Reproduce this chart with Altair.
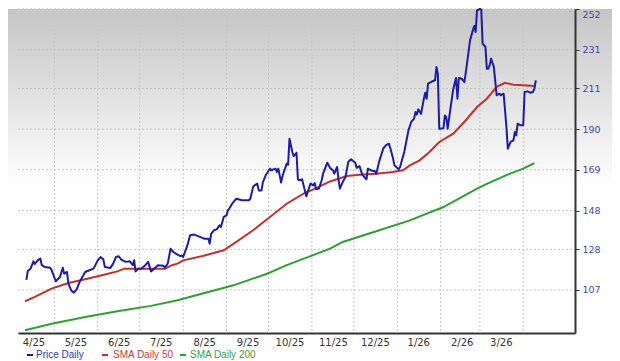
import altair as alt
import pandas as pd

# ---------------- data ----------------
price_dates = [
    "2025-04-11", "2025-04-12", "2025-04-14", "2025-04-16", "2025-04-17", "2025-04-19", "2025-04-21", "2025-04-22", "2025-04-24", "2025-04-28", "2025-04-29",
    "2025-05-02", "2025-05-05", "2025-05-07", "2025-05-08", "2025-05-10", "2025-05-11", "2025-05-13", "2025-05-15", "2025-05-17", "2025-05-19", "2025-05-23", "2025-05-26", "2025-05-29",
    "2025-06-01", "2025-06-03", "2025-06-05", "2025-06-06", "2025-06-10", "2025-06-12", "2025-06-14", "2025-06-16", "2025-06-18", "2025-06-21", "2025-06-24", "2025-06-26", "2025-06-27", "2025-06-28", "2025-06-30",
    "2025-07-02", "2025-07-05", "2025-07-07", "2025-07-09", "2025-07-12", "2025-07-14", "2025-07-18", "2025-07-19", "2025-07-21", "2025-07-23", "2025-07-25", "2025-07-28", "2025-07-30", "2025-07-31",
    "2025-08-01", "2025-08-04", "2025-08-06", "2025-08-09", "2025-08-13", "2025-08-16", "2025-08-19", "2025-08-20", "2025-08-21", "2025-08-23", "2025-08-25", "2025-08-27", "2025-08-28", "2025-08-30",
    "2025-09-01", "2025-09-02", "2025-09-03", "2025-09-05", "2025-09-07", "2025-09-08", "2025-09-12", "2025-09-17", "2025-09-18", "2025-09-20", "2025-09-21", "2025-09-23", "2025-09-24", "2025-09-26", "2025-09-27", "2025-09-29",
    "2025-10-02", "2025-10-03", "2025-10-06", "2025-10-07", "2025-10-08", "2025-10-10", "2025-10-11", "2025-10-14", "2025-10-15", "2025-10-16", "2025-10-18", "2025-10-19", "2025-10-21", "2025-10-22", "2025-10-23", "2025-10-25", "2025-10-28", "2025-10-29", "2025-10-31",
    "2025-11-02", "2025-11-03", "2025-11-04", "2025-11-06", "2025-11-08", "2025-11-09", "2025-11-12", "2025-11-14", "2025-11-16", "2025-11-17", "2025-11-19", "2025-11-20", "2025-11-21", "2025-11-23", "2025-11-25", "2025-11-27", "2025-11-29",
    "2025-12-02", "2025-12-03", "2025-12-05", "2025-12-07", "2025-12-09", "2025-12-10", "2025-12-11", "2025-12-13", "2025-12-16", "2025-12-17", "2025-12-19", "2025-12-22", "2025-12-24", "2025-12-26", "2025-12-27", "2025-12-29", "2025-12-30",
    "2026-01-02", "2026-01-03", "2026-01-06", "2026-01-09", "2026-01-11", "2026-01-13", "2026-01-14", "2026-01-15", "2026-01-16", "2026-01-18", "2026-01-20", "2026-01-21", "2026-01-22", "2026-01-23", "2026-01-26", "2026-01-28", "2026-01-29", "2026-01-30", "2026-01-31",
    "2026-02-03", "2026-02-04", "2026-02-05", "2026-02-06", "2026-02-08", "2026-02-10", "2026-02-11", "2026-02-12", "2026-02-13", "2026-02-14", "2026-02-16", "2026-02-18", "2026-02-20", "2026-02-22", "2026-02-24", "2026-02-25", "2026-02-26", "2026-02-27",
    "2026-03-01", "2026-03-02", "2026-03-03", "2026-03-05", "2026-03-06", "2026-03-07", "2026-03-08", "2026-03-09", "2026-03-11", "2026-03-13", "2026-03-15", "2026-03-16", "2026-03-18", "2026-03-20", "2026-03-21", "2026-03-23", "2026-03-25", "2026-03-26", "2026-03-27", "2026-03-28", "2026-03-30",
    "2026-04-01", "2026-04-02", "2026-04-04", "2026-04-06", "2026-04-08", "2026-04-09", "2026-04-10",
]
price_values = [
    112.2, 116.8, 118.0, 121.8, 120.4, 122.3, 123.2, 119.8, 118.9, 118.5, 117.2,
    111.5, 113.7, 118.5, 115.4, 116.3, 110.3, 106.8, 105.6, 107.4, 111.1, 116.3, 117.2, 118.0,
    122.3, 124.0, 122.8, 118.9, 118.4, 120.6, 124.0, 124.4, 122.6, 121.5, 121.8, 119.8, 122.3, 116.6, 118.0,
    118.0, 119.8, 121.5, 116.6, 118.4, 119.8, 119.5, 118.6, 120.6, 128.3, 126.6, 125.2, 124.5, 124.8,
    124.0, 130.0, 135.2, 135.6, 134.4, 133.5, 133.5, 130.9, 136.0, 137.8, 138.3, 140.4, 139.5, 144.7,
    145.5, 148.1, 149.0, 151.5, 153.3, 154.1, 153.3, 153.3, 154.1, 160.2, 161.0, 161.9, 158.4, 158.4, 162.7, 166.2,
    169.6, 168.8, 169.6, 167.9, 169.6, 162.4, 165.8, 172.2, 171.7, 185.1, 178.2, 176.1, 177.8, 164.1, 163.6, 164.1, 155.3, 157.6, 161.9,
    161.0, 162.2, 159.0, 159.3, 163.6, 167.0, 172.7, 170.0, 168.8, 167.0, 170.5, 164.1, 159.3, 162.7, 165.3, 173.1, 174.5,
    172.7, 170.0, 171.0, 166.5, 164.8, 164.1, 169.6, 168.8, 168.3, 167.0, 173.1, 180.0, 181.7, 182.5, 180.3, 174.8, 171.3,
    169.3, 170.5, 178.2, 189.4, 193.7, 195.4, 198.9, 197.5, 200.2, 197.9, 205.7, 208.8, 205.7, 213.5, 214.7, 215.2, 222.1, 218.6, 190.2,
    190.4, 197.1, 196.3, 190.2, 200.6, 210.6, 213.5, 216.4, 205.7, 216.4, 216.0, 214.3, 224.7, 235.8, 241.0, 243.2, 240.1, 251.3,
    252.0, 251.8, 234.1, 232.4, 221.2, 221.2, 222.9, 226.4, 222.1, 207.5, 208.3, 207.5, 208.3, 191.1, 179.9, 183.4, 184.2, 188.5, 186.8, 192.8, 192.0,
    192.0, 209.2, 209.5, 208.8, 209.2, 210.9, 215.2,
]

sma50_dates = [
    "2025-04-10", "2025-04-17", "2025-04-29", "2025-05-11", "2025-05-23", "2025-06-04", "2025-06-15", "2025-06-20", "2025-06-30",
    "2025-07-19", "2025-07-24", "2025-07-28", "2025-08-01", "2025-08-15", "2025-08-30", "2025-09-08", "2025-09-20", "2025-10-02",
    "2025-10-14", "2025-10-26", "2025-11-04", "2025-11-14", "2025-11-26", "2025-12-05", "2025-12-17", "2025-12-29", "2026-01-05",
    "2026-01-10", "2026-01-17", "2026-01-24", "2026-01-31", "2026-02-10", "2026-02-19", "2026-02-27", "2026-03-06", "2026-03-13",
    "2026-03-19", "2026-03-25", "2026-04-01", "2026-04-09",
]
sma50_values = [
    101.2, 103.4, 107.7, 110.6, 112.5, 114.6, 116.6, 118.0, 118.0,
    118.0, 119.8, 120.6, 122.3, 124.5, 127.5, 131.8, 137.8, 144.7,
    151.5, 156.7, 159.6, 163.0, 165.8, 166.5, 167.0, 167.9, 168.8,
    171.3, 173.9, 178.2, 183.4, 187.7, 194.6, 201.4, 205.7, 211.8,
    213.9, 212.9, 212.6, 212.3,
]

sma200_dates = [
    "2025-04-10", "2025-04-29", "2025-05-23", "2025-06-15", "2025-07-09", "2025-07-28", "2025-09-06", "2025-09-30", "2025-10-14",
    "2025-10-31", "2025-11-14", "2025-11-23", "2025-12-17", "2026-01-10", "2026-02-03", "2026-02-27", "2026-03-06", "2026-03-20",
    "2026-04-01", "2026-04-09",
]
sma200_values = [
    86.2, 89.6, 93.1, 96.0, 98.8, 101.7, 109.4, 115.4, 119.8,
    124.5, 128.3, 131.8, 137.3, 142.9, 149.8, 159.3, 161.8, 166.3,
    169.6, 172.5,
]

y_ticks = [107, 128, 148, 169, 190, 211, 231, 252]
month_starts = [
    "2025-05-01", "2025-06-01", "2025-07-01", "2025-08-01", "2025-09-01", "2025-10-01",
    "2025-11-01", "2025-12-01", "2026-01-01", "2026-02-01", "2026-03-01", "2026-04-01",
]
label_months = [(2025, m) for m in range(4, 13)] + [(2026, m) for m in range(1, 4)]

series_names = ["Price Daily", "SMA Daily 50", "SMA Daily 200"]
series_colors = ["#1c1ca6", "#c3302c", "#2f9e33"]
legend_text_colors = ["#3636b8", "#d23a3a", "#3c9c3c"]

# ---------------- build chart ----------------
W, H = 557, 324

price_df = pd.DataFrame({"date": price_dates, "value": price_values})
sma50_df = pd.DataFrame({"date": sma50_dates, "value": sma50_values})
sma200_df = pd.DataFrame({"date": sma200_dates, "value": sma200_values})
grid_x_df = pd.DataFrame({"gdate": month_starts})
grid_y_df = pd.DataFrame({"gval": y_ticks})
dummy = pd.DataFrame({"a": [0]})

x_scale = alt.Scale(
    type="utc",
    domain=[alt.DateTime(year=2025, month=4, date=5, utc=True),
            alt.DateTime(year=2026, month=5, date=8, utc=True)],
)
x_axis = alt.Axis(
    values=[alt.DateTime(year=y, month=m, date=16, utc=True) for y, m in label_months],
    labelExpr="utcFormat(datum.value, '%-m/%y')",
    ticks=False, grid=False, title=None,
    domainColor="#333333", domainWidth=2,
    labelFont="DejaVu Sans", labelFontSize=10, labelColor="#333333",
    labelPadding=4, labelOverlap=False, labelFlush=False, zindex=1,
)
y_scale = alt.Scale(domain=[84.8, 252], nice=False, zero=False)
y_axis = alt.Axis(
    orient="right", values=y_ticks, grid=False, title=None,
    domainColor="#333333", domainWidth=2,
    tickColor="#333333", tickSize=4, tickWidth=1,
    labelFont="DejaVu Sans", labelFontSize=9.5, labelColor="#4646b4",
    labelPadding=3, labelFlush=True, labelOverlap=False, zindex=1,
)

x_enc = alt.X("date:T", scale=x_scale, axis=x_axis, title=None)
y_enc = alt.Y("value:Q", scale=y_scale, axis=y_axis, title=None)

background = alt.Chart(dummy).mark_rect(
    fill={
        "gradient": "linear", "x1": 0, "y1": 0, "x2": 0, "y2": 1,
        "stops": [
            {"offset": 0, "color": "#c5c5c5"},
            {"offset": 0.55, "color": "#ffffff"},
            {"offset": 1, "color": "#ffffff"},
        ],
    }
).encode(x=alt.value(-10), x2=alt.value(W + 37), y=alt.value(0), y2=alt.value(H))

grid_x = alt.Chart(grid_x_df).mark_rule(
    stroke="#c6c6c6", strokeWidth=1, strokeDash=[2, 2], opacity=1
).encode(x=alt.X("gdate:T", title=None), y=alt.value(0), y2=alt.value(H))

grid_y = alt.Chart(grid_y_df).mark_rule(
    stroke="#c6c6c6", strokeWidth=1, strokeDash=[2, 2], opacity=1
).encode(y=alt.Y("gval:Q", title=None), x=alt.value(0), x2=alt.value(W))

line200 = alt.Chart(sma200_df).mark_line(color=series_colors[2], strokeWidth=2).encode(x=x_enc, y=y_enc)
line50 = alt.Chart(sma50_df).mark_line(color=series_colors[1], strokeWidth=2).encode(x=x_enc, y=y_enc)
price = alt.Chart(price_df).mark_line(color=series_colors[0], strokeWidth=2, strokeJoin="round").encode(x=x_enc, y=y_enc)

legend_layers = []
legend_dash_x = [9, 84, 162]
legend_text_x = [18, 95, 172]
legend_y = 346
for name, col, tcol, dx, tx in zip(series_names, series_colors, legend_text_colors, legend_dash_x, legend_text_x):
    legend_layers.append(
        alt.Chart(dummy).mark_rule(color=col, strokeWidth=2).encode(
            x=alt.value(dx), x2=alt.value(dx + 6), y=alt.value(legend_y)
        )
    )
    legend_layers.append(
        alt.Chart(dummy).mark_text(
            text=name, align="left", baseline="middle",
            font="Liberation Sans", fontSize=10, color=tcol,
        ).encode(x=alt.value(tx), y=alt.value(legend_y))
    )

chart = alt.layer(
    background, grid_x, grid_y, line200, line50, price, *legend_layers
).resolve_scale(x="shared", y="shared").properties(
    width=W, height=H,
    padding={"left": 0, "top": 0, "right": 0, "bottom": 0},
).configure_view(stroke=None).configure(background="white")

chart.save("out.html", embed_options={"renderer": "svg", "actions": False})
